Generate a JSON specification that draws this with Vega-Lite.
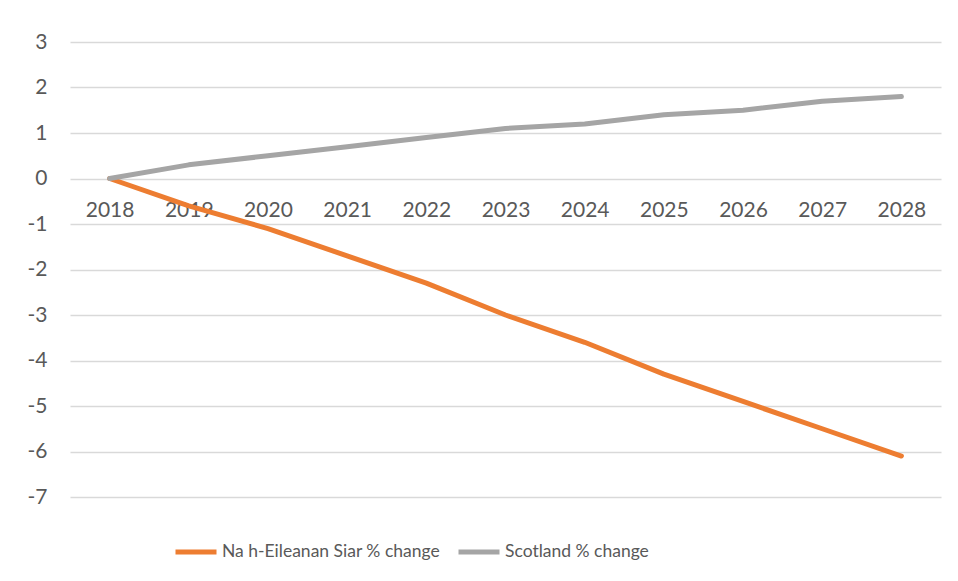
{
  "$schema": "https://vega.github.io/schema/vega-lite/v6.json",
  "autosize": "none",
  "width": 871,
  "height": 455,
  "padding": {"left": 70, "top": 42, "right": 17, "bottom": 84},
  "background": "white",
  "config": {
    "view": {"stroke": null},
    "font": "Lato"
  },
  "data": {
    "values": [
      {"year": "2018", "series": "Na h-Eileanan Siar % change", "value": 0},
      {"year": "2019", "series": "Na h-Eileanan Siar % change", "value": -0.6},
      {"year": "2020", "series": "Na h-Eileanan Siar % change", "value": -1.1},
      {"year": "2021", "series": "Na h-Eileanan Siar % change", "value": -1.7},
      {"year": "2022", "series": "Na h-Eileanan Siar % change", "value": -2.3},
      {"year": "2023", "series": "Na h-Eileanan Siar % change", "value": -3.0},
      {"year": "2024", "series": "Na h-Eileanan Siar % change", "value": -3.6},
      {"year": "2025", "series": "Na h-Eileanan Siar % change", "value": -4.3},
      {"year": "2026", "series": "Na h-Eileanan Siar % change", "value": -4.9},
      {"year": "2027", "series": "Na h-Eileanan Siar % change", "value": -5.5},
      {"year": "2028", "series": "Na h-Eileanan Siar % change", "value": -6.1},
      {"year": "2018", "series": "Scotland % change", "value": 0},
      {"year": "2019", "series": "Scotland % change", "value": 0.3},
      {"year": "2020", "series": "Scotland % change", "value": 0.5},
      {"year": "2021", "series": "Scotland % change", "value": 0.7},
      {"year": "2022", "series": "Scotland % change", "value": 0.9},
      {"year": "2023", "series": "Scotland % change", "value": 1.1},
      {"year": "2024", "series": "Scotland % change", "value": 1.2},
      {"year": "2025", "series": "Scotland % change", "value": 1.4},
      {"year": "2026", "series": "Scotland % change", "value": 1.5},
      {"year": "2027", "series": "Scotland % change", "value": 1.7},
      {"year": "2028", "series": "Scotland % change", "value": 1.8}
    ]
  },
  "mark": {"type": "line", "strokeWidth": 5, "strokeCap": "round", "strokeJoin": "round"},
  "encoding": {
    "x": {
      "field": "year",
      "type": "ordinal",
      "scale": {"type": "point", "padding": 0.5},
      "axis": {
        "title": null,
        "orient": "bottom",
        "offset": -318.5,
        "domain": false,
        "ticks": false,
        "grid": false,
        "labelAngle": 0,
        "labelFontSize": 21,
        "labelColor": "#595959",
        "labelPadding": 21
      }
    },
    "y": {
      "field": "value",
      "type": "quantitative",
      "scale": {"domain": [-7, 3], "nice": false, "zero": false},
      "axis": {
        "title": null,
        "values": [-7, -6, -5, -4, -3, -2, -1, 0, 1, 2, 3],
        "labelExpr": "'' + datum.value",
        "domain": false,
        "ticks": false,
        "grid": true,
        "gridColor": "#d9d9d9",
        "gridWidth": 1.5,
        "labelFontSize": 21,
        "labelColor": "#595959",
        "labelPadding": 23
      }
    },
    "color": {
      "field": "series",
      "type": "nominal",
      "scale": {
        "domain": ["Na h-Eileanan Siar % change", "Scotland % change"],
        "range": ["#ED7D31", "#A5A5A5"]
      },
      "legend": {
        "title": null,
        "orient": "none",
        "direction": "horizontal",
        "legendX": 103,
        "legendY": 487,
        "symbolType": "stroke",
        "symbolStrokeWidth": 5,
        "symbolSize": 1681,
        "labelFontSize": 17.5,
        "labelColor": "#595959",
        "labelOffset": 3,
        "labelLimit": 400,
        "columnPadding": 7
      }
    }
  }
}
